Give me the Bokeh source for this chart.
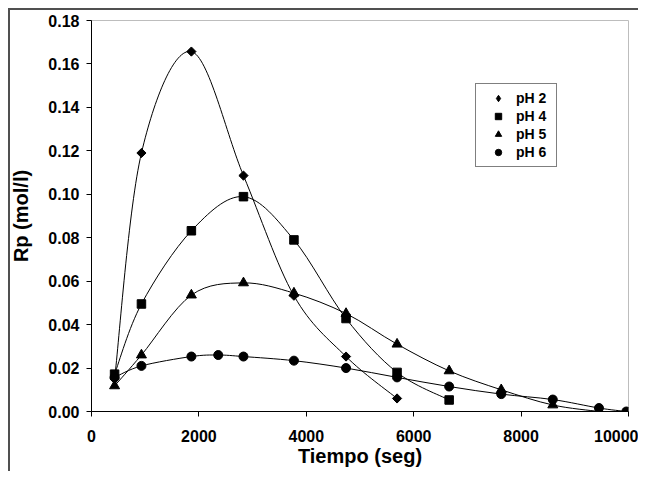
import numpy as np
from bokeh.plotting import figure
from bokeh.models import (Range1d, FixedTicker, NumeralTickFormatter, Legend,
                          LegendItem, ColumnDataSource)
from bokeh.embed import file_html
from bokeh.resources import INLINE

# ---- data ----
t_ph2 = [430, 930, 1860, 2830, 3770, 4740, 5690]
rp_ph2 = [0.015, 0.119, 0.1657, 0.1086, 0.0533, 0.0253, 0.0060]

t_ph4 = [430, 930, 1860, 2830, 3770, 4740, 5690, 6660]
rp_ph4 = [0.0172, 0.0495, 0.0832, 0.0989, 0.0790, 0.0428, 0.0180, 0.0053]

t_ph5 = [430, 930, 1860, 2830, 3770, 4740, 5690, 6660, 7630, 8590, 9450]
rp_ph5 = [0.0118, 0.0260, 0.0536, 0.0592, 0.0545, 0.0451, 0.0310, 0.0187, 0.0100, 0.0030, 0.0000]

t_ph6 = [430, 930, 1860, 2360, 2830, 3770, 4740, 5690, 6660, 7630, 8590, 9450, 9960]
rp_ph6 = [0.0157, 0.0210, 0.0253, 0.0260, 0.0253, 0.0234, 0.0200, 0.0157, 0.0115, 0.0080, 0.0055, 0.0016, 0.0000]

series_names = ["pH 2", "pH 4", "pH 5", "pH 6"]
x_ticks = [0, 2000, 4000, 6000, 8000, 10000]
y_ticks = [0.00, 0.02, 0.04, 0.06, 0.08, 0.10, 0.12, 0.14, 0.16, 0.18]

p = figure(width=638, height=471, output_backend="svg", toolbar_location=None,
           x_range=Range1d(0, 10000), y_range=Range1d(0, 0.18),
           min_border_left=91, min_border_right=10, min_border_top=20,
           min_border_bottom=60)
p.background_fill_color = "white"
p.border_fill_alpha = 0
p.outline_line_color = "#bdbdbd"
p.outline_line_width = 1
p.xgrid.visible = False
p.ygrid.visible = False

# outer chart-area frame: only its top and left edges fall inside the view
p.styles = {
    "background-color": "white",
    "background-image": "linear-gradient(#505050, #505050), linear-gradient(#505050, #505050)",
    "background-size": "100% 2px, 2px 100%",
    "background-position": "8px 8px, 8px 8px",
    "background-repeat": "no-repeat",
}


def smooth_segments(xs, ys):
    """Excel-like smoothed line: Catmull-Rom bezier control points."""
    x = np.asarray(xs, float)
    y = np.asarray(ys, float)
    n = len(x)
    xp = np.concatenate([[x[0]], x, [x[-1]]])
    yp = np.concatenate([[y[0]], y, [y[-1]]])
    d = dict(x0=[], y0=[], x1=[], y1=[], cx0=[], cy0=[], cx1=[], cy1=[])
    for i in range(n - 1):
        k = i + 1
        d["x0"].append(xp[k]); d["y0"].append(yp[k])
        d["x1"].append(xp[k + 1]); d["y1"].append(yp[k + 1])
        d["cx0"].append(xp[k] + (xp[k + 1] - xp[k - 1]) / 6)
        d["cy0"].append(yp[k] + (yp[k + 1] - yp[k - 1]) / 6)
        d["cx1"].append(xp[k + 1] - (xp[k + 2] - xp[k]) / 6)
        d["cy1"].append(yp[k + 1] - (yp[k + 2] - yp[k]) / 6)
    return ColumnDataSource(d)


all_series = [(t_ph2, rp_ph2), (t_ph4, rp_ph4), (t_ph5, rp_ph5), (t_ph6, rp_ph6)]
for xs, ys in all_series:
    p.bezier(x0="x0", y0="y0", x1="x1", y1="y1", cx0="cx0", cy0="cy0",
             cx1="cx1", cy1="cy1", source=smooth_segments(xs, ys),
             line_color="black", line_width=1)

marker_specs = [
    dict(marker="square", angle=np.pi / 4, size=6.5),
    dict(marker="square", angle=0, size=8.5),
    dict(marker="triangle", angle=0, size=10),
    dict(marker="circle", angle=0, size=9),
]
legend_specs = [
    dict(marker="diamond", angle=0, size=10),
    dict(marker="square", angle=0, size=7),
    dict(marker="triangle", angle=0, size=7.5),
    dict(marker="circle", angle=0, size=7.5),
]

for (xs, ys), spec in zip(all_series, marker_specs):
    p.scatter(xs, ys, marker=spec["marker"], angle=spec["angle"], size=spec["size"],
              fill_color="black", line_color="black")

items = []
for name, spec in zip(series_names, legend_specs):
    r = p.scatter(x=[np.nan], y=[np.nan], marker=spec["marker"], angle=spec["angle"],
                  size=spec["size"], fill_color="black", line_color="black")
    items.append(LegendItem(label=name, renderers=[r]))

legend = Legend(items=items, location=(384, 244), margin=0, padding=6,
                spacing=2, glyph_width=32, glyph_height=16, label_height=16,
                label_width=34, label_standoff=2,
                label_text_font="Liberation Sans", label_text_font_style="bold",
                label_text_font_size="14px", label_text_color="black",
                border_line_color="black", border_line_width=1,
                background_fill_color="white", background_fill_alpha=1.0)
p.add_layout(legend)

# axes
p.xaxis.ticker = FixedTicker(ticks=x_ticks)
p.yaxis.ticker = FixedTicker(ticks=y_ticks)
p.xaxis.formatter = NumeralTickFormatter(format="0")
p.yaxis.formatter = NumeralTickFormatter(format="0.00")
p.xaxis.axis_label = "Tiempo (seg)"
p.yaxis.axis_label = "Rp (mol/l)"
for ax in (p.xaxis, p.yaxis):
    ax.axis_line_color = "black"
    ax.axis_line_width = 1
    ax.major_tick_line_color = "black"
    ax.major_tick_in = 0
    ax.major_tick_out = 5
    ax.minor_tick_line_color = None
    ax.major_label_text_font = "Liberation Sans"
    ax.major_label_text_font_style = "bold"
    ax.major_label_text_font_size = "16px"
    ax.major_label_text_color = "black"
    ax.axis_label_text_font = "Liberation Sans"
    ax.axis_label_text_font_style = "bold"
    ax.axis_label_text_font_size = "20px"
    ax.axis_label_text_color = "black"
p.xaxis.major_label_standoff = 13
p.xaxis.axis_label_standoff = 0
p.yaxis.major_label_standoff = 7
p.yaxis.axis_label_standoff = 13

open("out.html", "w").write(file_html(p, INLINE))
